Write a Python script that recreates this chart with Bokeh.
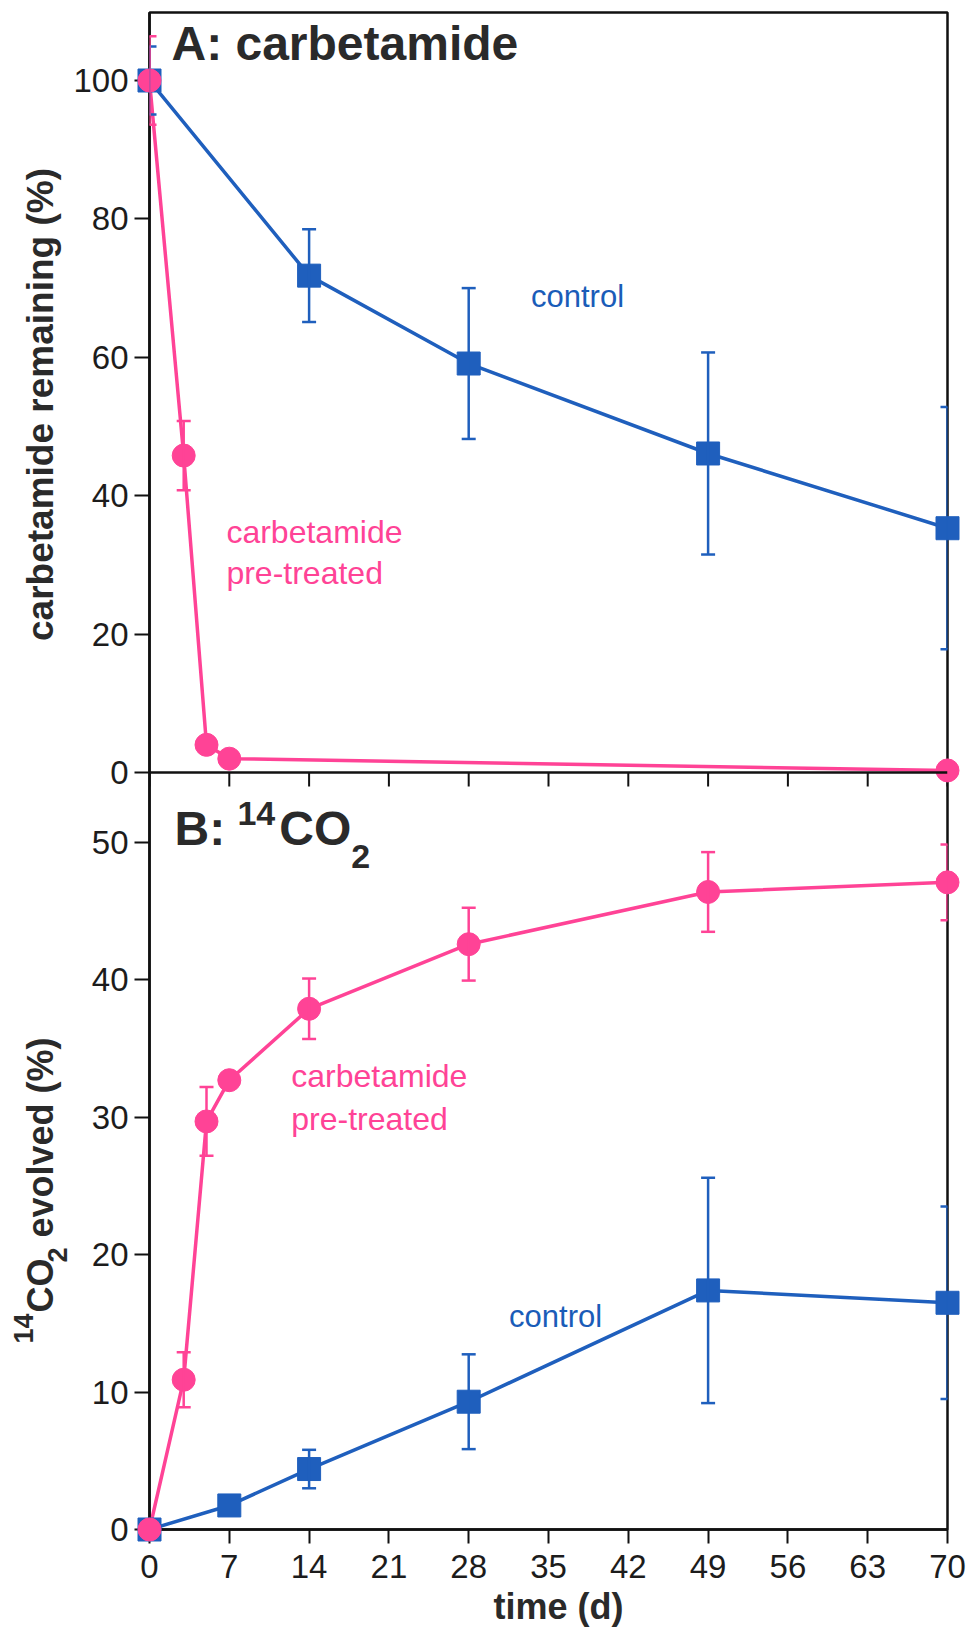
from math import pi
from bokeh.plotting import figure
from bokeh.layouts import row
from bokeh.models import (ColumnDataSource, Range1d, LinearAxis, FixedTicker,
                          CustomJSTickFormatter, Whisker, TeeHead, Label, Span, Title)
from bokeh.embed import file_html
from bokeh.resources import INLINE

# ---------------- data ----------------
day_ticks = [0, 7, 14, 21, 28, 35, 42, 49, 56, 63, 70]
top_ticks = [0, 20, 40, 60, 80, 100]
bottom_ticks = [0, 10, 20, 30, 40, 50]

# Panel A: carbetamide remaining (%)
a_control_day = [0, 14, 28, 49, 70]
a_control_pct = [100, 71.8, 59.1, 46.1, 35.3]
a_control_err = [4.9, 6.7, 10.9, 14.6, 17.5]
a_pre_day = [0, 3, 5, 7, 70]
a_pre_pct = [100, 45.8, 4.0, 2.0, 0.3]
a_pre_err = [6.4, 5.0, 0, 0, 0]

# Panel B: 14CO2 evolved (%)
b_control_day = [0, 7, 14, 28, 49, 70]
b_control_pct = [0, 1.75, 4.4, 9.3, 17.4, 16.5]
b_control_err = [0, 0, 1.4, 3.45, 8.2, 7.0]
b_pre_day = [0, 3, 5, 7, 14, 28, 49, 70]
b_pre_pct = [0, 10.9, 29.7, 32.7, 37.9, 42.6, 46.4, 47.1]
b_pre_err = [0, 2.0, 2.5, 0, 2.2, 2.65, 2.9, 2.75]

BLUE = "#1f5fbd"
PINK = "#ff4396"
TXT = "#2a2a2a"
FONT = "Liberation Sans"
MID = 0.3465   # anchor offset (em) used by the text renderer

# ---------------- geometry (page pixels) ----------------
LEFT_W = 70                       # width of the strip holding the y titles
X0_PX, X70_PX = 148, 947          # day 0 / day 70
B0_PX, B_PER = 1529, 13.74        # panel B zero line, px per %
T0_PX, T_PER = 772, 6.92          # panel A zero line, px per %
TOP_PX = 12
SX = (X70_PX - X0_PX) / 70.0
TICK_PX = 14
TOTAL_W, H = 970, 1639

y_end = (B0_PX - TOP_PX) / B_PER
D = (B0_PX - T0_PX) / B_PER       # panel A zero in panel-B units
K = T_PER / B_PER

W = TOTAL_W - LEFT_W
p = figure(width=W, height=H,
           x_range=Range1d(0, 70), y_range=Range1d(0, y_end),
           x_axis_location=None, y_axis_location=None,
           toolbar_location=None, output_backend="svg",
           min_border_left=X0_PX - LEFT_W, min_border_right=W - (X70_PX - LEFT_W),
           min_border_top=TOP_PX, min_border_bottom=H - B0_PX,
           outline_line_color="#111111", outline_line_width=2.5,
           background_fill_color="white", border_fill_color="white")
p.extra_y_ranges = {"top": Range1d((0 - D) / K, (y_end - D) / K)}
for g in p.grid:
    g.visible = False


def dx(px):
    return (px - X0_PX) / SX


def dy(py):
    return (B0_PX - py) / B_PER


# ---------------- axes ----------------
left_ticks = bottom_ticks + [D + v * K for v in top_ticks]
yax = LinearAxis(ticker=FixedTicker(ticks=left_ticks),
                 formatter=CustomJSTickFormatter(
                     args=dict(D=D, K=K),
                     code="return tick > D - 1e-6 ? String(Math.round((tick - D) / K)) : String(Math.round(tick));"))
xax = LinearAxis(ticker=FixedTicker(ticks=day_ticks))

for ax in (yax, xax):
    ax.axis_line_color = "#111111"
    ax.axis_line_width = 2.5
    ax.major_tick_line_color = "#111111"
    ax.major_tick_line_width = 2
    ax.major_tick_in = 0
    ax.minor_tick_out = 0
    ax.minor_tick_in = 0
    ax.major_label_text_font = FONT
    ax.major_label_text_font_size = "33px"
    ax.major_label_text_color = "#1c1c1c"

yax.major_tick_out = 15
yax.major_label_standoff = 6
xax.major_tick_out = TICK_PX
xax.major_label_standoff = 11

p.add_layout(yax, "left")
p.add_layout(xax, "below")
p.add_layout(Title(text="\u00a0\u00a0time (d)", align="center", standoff=7,
                   text_font=FONT, text_font_size="36px", text_font_style="bold",
                   text_color=TXT), "below")

# divider between panels A and B (panel A's time axis, ticks pointing down)
p.add_layout(Span(location=0, dimension="width", y_range_name="top",
                  line_color="#111111", line_width=2.5, level="overlay"))
p.segment(x0=day_ticks, y0=[0] * len(day_ticks),
          x1=day_ticks, y1=[-TICK_PX / T_PER] * len(day_ticks),
          y_range_name="top", line_color="#111111", line_width=2)


# ---------------- series ----------------
def series(day, pct, color, rname):
    p.line(day, pct, line_color=color, line_width=3.5, y_range_name=rname)


def markers(day, pct, err, color, marker, rname):
    idx = [i for i, e in enumerate(err) if e > 0]
    src = ColumnDataSource(dict(base=[day[i] for i in idx],
                                upper=[pct[i] + err[i] for i in idx],
                                lower=[pct[i] - err[i] for i in idx]))
    wk = Whisker(source=src, base="base", upper="upper", lower="lower",
                 dimension="height", line_color=color, line_width=2.5,
                 upper_head=TeeHead(size=14, line_color=color, line_width=2.5),
                 lower_head=TeeHead(size=14, line_color=color, line_width=2.5),
                 y_range_name=rname, level="overlay")
    p.add_layout(wk)
    r = p.scatter(day, pct, marker=marker, size=23, fill_color=color,
                  line_color=color, y_range_name=rname)
    r.level = "overlay"


series(a_control_day, a_control_pct, BLUE, "top")
series(b_control_day, b_control_pct, BLUE, "default")
series(a_pre_day, a_pre_pct, PINK, "top")
series(b_pre_day, b_pre_pct, PINK, "default")
markers(a_control_day, a_control_pct, a_control_err, BLUE, "square", "top")
markers(b_control_day, b_control_pct, b_control_err, BLUE, "square", "default")
markers(a_pre_day, a_pre_pct, a_pre_err, PINK, "circle", "top")
markers(b_pre_day, b_pre_pct, b_pre_err, PINK, "circle", "default")


# ---------------- texts in the plot ----------------
def lab(px, py, text, size, color=TXT, style="normal"):
    p.add_layout(Label(x=dx(px), y=dy(py - MID * size), text=text,
                       text_font=FONT, text_font_size=f"{size}px",
                       text_font_style=style, text_color=color,
                       text_align="left", text_baseline="alphabetic",
                       level="overlay"))


lab(170, 60, "A: carbetamide", 48, style="bold")
lab(173, 845, "B:", 48, style="bold")
lab(236, 825, "14", 34, style="bold")
lab(278, 845, "CO", 48, style="bold")
lab(350, 868, "2", 34, style="bold")

lab(530, 307, "control", 31, color="#1a5cb8")
lab(225, 543, "carbetamide", 32, color=PINK)
lab(225, 584, "pre-treated", 32, color=PINK)
lab(508, 1327, "control", 31, color="#1a5cb8")
lab(290, 1087, "carbetamide", 32, color=PINK)
lab(290, 1130, "pre-treated", 32, color=PINK)

# ---------------- strip with the rotated y titles ----------------
# its frame is aligned with the main frame (page y 12 .. 1529)
side = figure(width=LEFT_W, height=H, x_range=Range1d(0, LEFT_W),
              y_range=Range1d(B0_PX, TOP_PX),
              x_axis_location=None, y_axis_location=None,
              toolbar_location=None, output_backend="svg",
              min_border_left=0, min_border_right=0,
              min_border_top=TOP_PX, min_border_bottom=H - B0_PX,
              outline_line_color=None, background_fill_color="white",
              border_fill_color="white")
for g in side.grid:
    g.visible = False


def vlab(bx, py, text, size, align="left"):
    # bx: page x of the text baseline, py: page y where the text starts
    side.add_layout(Label(x=bx - MID * size, y=py, text=text, angle=pi / 2,
                          text_font=FONT, text_font_size=f"{size}px",
                          text_font_style="bold", text_color=TXT,
                          text_align=align, text_baseline="alphabetic"))


vlab(53, 404, "carbetamide remaining (%)", 37, align="center")
vlab(32, 1343, "14", 27)
vlab(52, 1312, "CO", 36)
vlab(66, 1262, "2", 27)
vlab(52, 1237, "evolved (%)", 36)

layout = row(side, p, spacing=0)
open("out.html", "w").write(file_html(layout, INLINE))
